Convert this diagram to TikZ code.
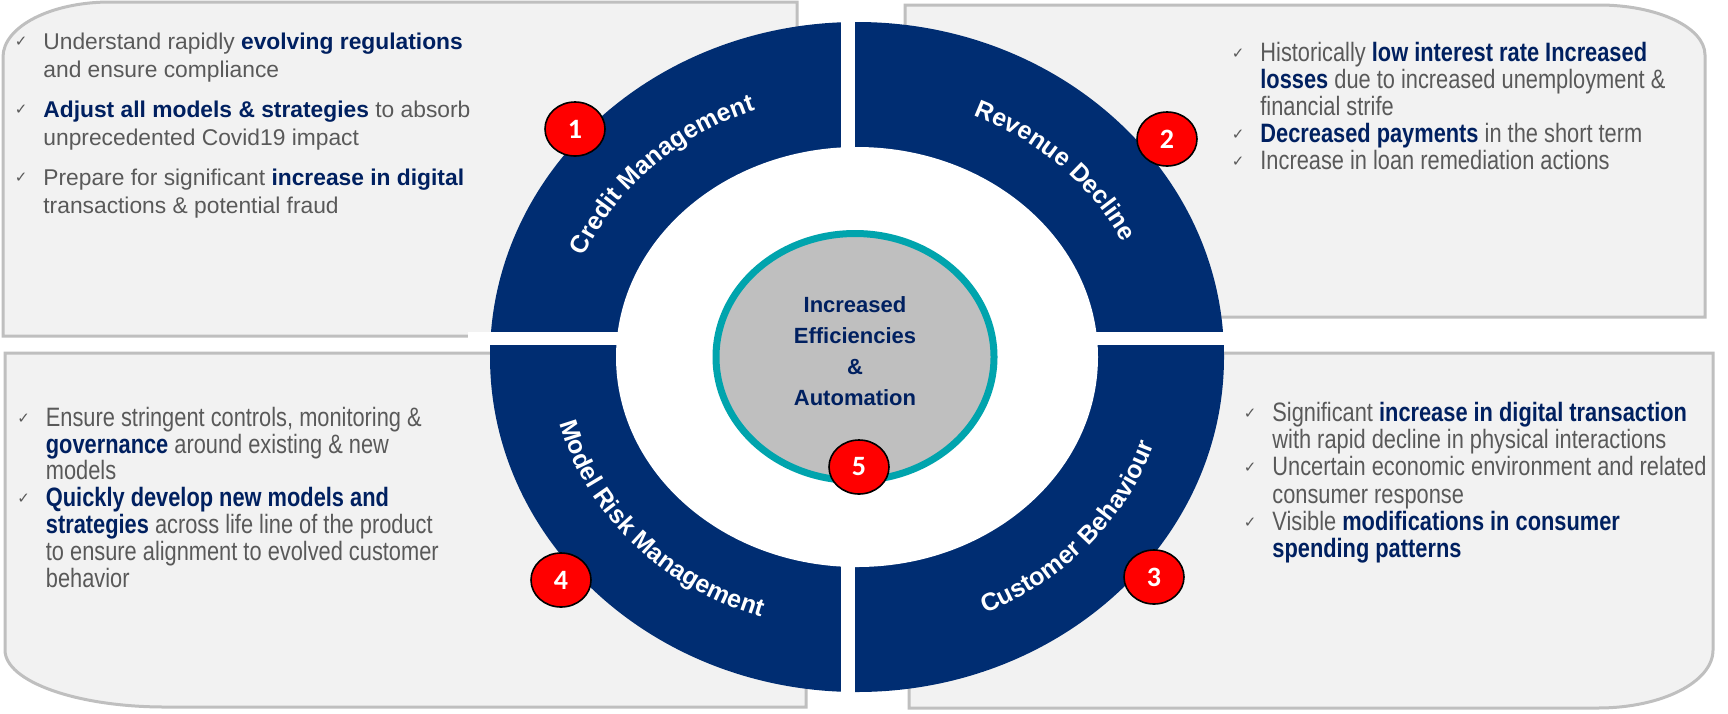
\documentclass[tikz,border=0pt]{standalone}
\usepackage{fontspec}
\setmainfont{Liberation Sans}
\newfontfamily\narrowfont{Liberation Sans}[FakeStretch=0.82]
\newfontfamily\tickfont{DejaVu Sans}
\newfontfamily\badgefont{Carlito}
\usetikzlibrary{shapes.geometric, decorations.text}

\definecolor{ringblue}{RGB}{0,45,114}
\definecolor{navytext}{RGB}{0,32,96}
\definecolor{panelfill}{RGB}{242,242,242}
\definecolor{panelline}{RGB}{191,191,191}
\definecolor{bodygray}{RGB}{89,89,89}
\definecolor{tealline}{RGB}{0,164,173}
\definecolor{hubfill}{RGB}{191,191,191}
\definecolor{badgered}{RGB}{255,0,0}

\newcommand{\keyterm}[1]{\textbf{\color{navytext}#1}}
\newcommand{\tick}{\llap{\raisebox{1.5pt}{\tickfont\fontsize{7.5}{7.5}\selectfont ✓}\hspace{8pt}}}

\begin{document}
\begin{tikzpicture}[
  x=0.5pt, y=-0.5pt,
  panel/.style={fill=panelfill, draw=panelline, line width=1.5pt},
  wide text/.style={anchor=base west, inner sep=0pt, align=left, text=bodygray,
    font=\fontsize{11.4}{13.75}\selectfont},
  narrow text/.style={anchor=base west, inner sep=0pt, align=left, text=bodygray,
    font=\narrowfont\fontsize{13.3}{13.4}\selectfont},
  badge/.style={ellipse, draw=black, line width=0.8pt, fill=badgered,
    minimum width=30pt, minimum height=27pt, inner sep=0pt, text=white,
    font=\badgefont\bfseries\fontsize{14}{14}\selectfont},
  ring label/.style={decorate, decoration={text along path, text align=center,
    text={|\color{white}\bfseries\fontsize{12.5}{15}\selectfont|#1}}},
]
\useasboundingbox (0,0) rectangle (1728,713);

% panels behind the ring
\path[panel] (3,336) -- (3,57) arc[start angle=180, end angle=270, x radius=107, y radius=55]
  -- (797,2) -- (797,336) -- cycle;
\path[panel] (905,317) -- (905,5) -- (1599,5) arc[start angle=270, end angle=360, x radius=106, y radius=50]
  -- (1705,317) -- cycle;
\path[panel] (5,353) -- (806,353) -- (806,707) -- (165,707)
  arc[start angle=90, end angle=180, x radius=160, y radius=57] -- cycle;
\path[panel] (909,353) -- (1713,353) -- (1713,650)
  arc[start angle=0, end angle=90, x radius=115, y radius=58] -- (909,708) -- cycle;

% ring, split in four
\coordinate (hub) at (857,357);
\fill[ringblue] (hub) ellipse [x radius=367, y radius=335];
\fill[white] (hub) ellipse [x radius=241, y radius=210];
\fill[white] (841,10) rectangle (855,705);
\fill[white] (468,332) rectangle (1240,345);

% centre
\node[ellipse, draw=tealline, line width=3.5pt, fill=hubfill, minimum width=139pt,
  minimum height=123.5pt, inner sep=0pt] (core) at (855,357) {};
\node[align=center, text=navytext, font=\bfseries\fontsize{11}{15.5}\selectfont]
  (coretext) at (855,351) {Increased\\Efficiencies\\\&\\Automation};

% curved labels
\path (hub) ++(180:295 and 263) coordinate (creditstart);
\path (hub) ++(270:295 and 263) coordinate (revenuestart);
\path (hub) ++(86:313 and 281) coordinate (customerstart);
\path (hub) ++(183:306 and 274) coordinate (modelstart);
\path[ring label={Credit Management}] (creditstart)
  arc[start angle=180, end angle=270, x radius=295, y radius=263];
\path[ring label={Revenue Decline}] (revenuestart)
  arc[start angle=270, end angle=360, x radius=295, y radius=263];
\path[ring label={Customer Behaviour}] (customerstart)
  arc[start angle=86, end angle=-4, x radius=313, y radius=281];
\path[ring label={Model Risk Management}] (modelstart)
  arc[start angle=183, end angle=93, x radius=306, y radius=274];

% numbered badges
\node[badge] (b1) at (575,129) {1};
\node[badge] (b2) at (1167,139) {2};
\node[badge] (b3) at (1154,577) {3};
\node[badge] (b4) at (561,580) {4};
\node[badge] (b5) at (859,467) {5};

% panel texts (placed by the baseline of their last line)
\node[wide text] (credittext) at (43,213) {%
  \tick Understand rapidly \keyterm{evolving regulations}\\
  and ensure compliance\\[6.5pt]
  \tick\keyterm{Adjust all models \& strategies} to absorb\\
  unprecedented Covid19 impact\\[6.5pt]
  \tick Prepare for significant \keyterm{increase in digital}\\
  transactions \& potential fraud};
\node[narrow text] (revenuetext) at (1260,169) {%
  \tick Historically \keyterm{low interest rate Increased}\\
  \keyterm{losses} due to increased unemployment \&\\
  financial strife\\
  \tick\keyterm{Decreased payments} in the short term\\
  \tick Increase in loan remediation actions};
\node[narrow text] (modeltext) at (45.5,587) {%
  \tick Ensure stringent controls, monitoring \&\\
  \keyterm{governance} around existing \& new\\
  models\\
  \tick\keyterm{Quickly develop new models and}\\
  \keyterm{strategies} across life line of the product\\
  to ensure alignment to evolved customer\\
  behavior};
\node[narrow text, font=\narrowfont\fontsize{13.3}{13.6}\selectfont] (customertext) at (1272,557.5) {%
  \tick Significant \keyterm{increase in digital transaction}\\
  with rapid decline in physical interactions\\
  \tick Uncertain economic environment and related\\
  consumer response\\
  \tick Visible \keyterm{modifications in consumer}\\
  \keyterm{spending patterns}};
\end{tikzpicture}
\end{document}
